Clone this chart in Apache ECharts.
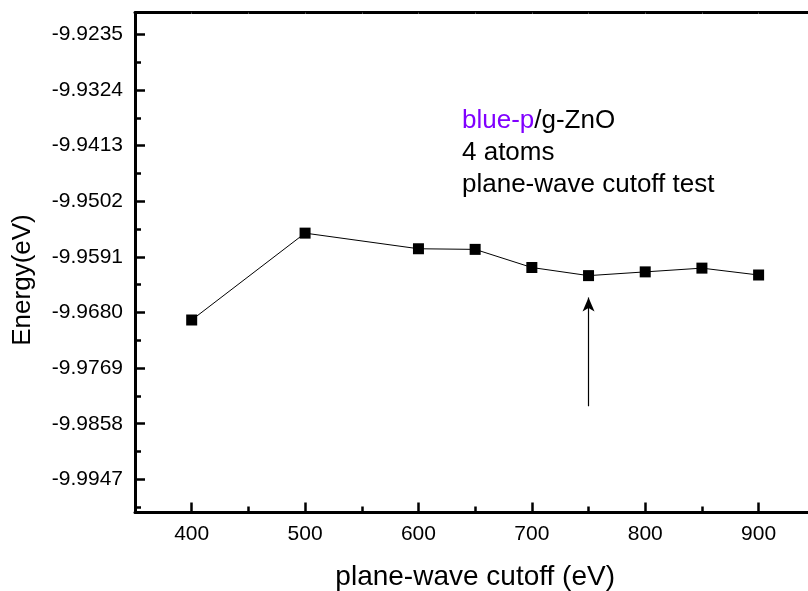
<!DOCTYPE html>
<html>
<head>
<meta charset="utf-8">
<script src="https://cdn.jsdelivr.net/npm/echarts@6/dist/echarts.min.js"></script>
<style>
html,body{margin:0;padding:0;background:#fff;}
#c{width:808px;height:591px;}
</style>
</head>
<body>
<div id="c"></div>
<script>
const cutoff = [400, 500, 600, 650, 700, 750, 800, 850, 900];
const energy = [-9.9692, -9.9553, -9.9578, -9.9579, -9.9608, -9.9621, -9.9615, -9.9609, -9.9620];
const yTicks = [-9.9235, -9.9324, -9.9413, -9.9502, -9.9591, -9.9680, -9.9769, -9.9858, -9.9947];
const yMinorTicks = [-9.92795, -9.93685, -9.94575, -9.95465, -9.96355, -9.97245, -9.98135, -9.99025, -9.99915];
const xTicks = [400, 500, 600, 700, 800, 900];
const xMinorTicks = [450, 550, 650, 750, 850];
const arrowFrom = [750, -9.9830];
const arrowTo = [750, -9.9656];
const noteLines = ['blue-p', '/g-ZnO', '4 atoms', 'plane-wave cutoff test'];

const FONT = '"Liberation Sans", Arial, Helvetica, sans-serif';
const chart = echarts.init(document.getElementById('c'), null, {renderer: 'canvas'});
const xMin = 350, xMax = 950, yMin = -10.0, yMax = -9.92;

chart.setOption({
  animation: false,
  backgroundColor: '#fff',
  grid: {left: 135, top: 12.5, right: -7.3, bottom: 78.5, containLabel: false, outerBoundsMode: 'none'},
  xAxis: [
    {
      type: 'value', position: 'bottom', min: xMin, max: xMax,
      name: 'plane-wave cutoff (eV)', nameLocation: 'middle', nameGap: 51,
      nameTextStyle: {fontFamily: FONT, fontSize: 28, color: '#000'},
      axisLine: {show: true, onZero: false, lineStyle: {color: '#000', width: 3}},
      axisTick: {show: true, inside: true, length: 10, customValues: xTicks, lineStyle: {color: '#000', width: 2.5}},
      axisLabel: {show: true, customValues: xTicks, margin: 11, fontFamily: FONT, fontSize: 21, color: '#000'},
      splitLine: {show: false}
    },
    {
      type: 'value', position: 'bottom', min: xMin, max: xMax,
      axisLine: {show: false},
      axisTick: {show: true, inside: true, length: 6, customValues: xMinorTicks, lineStyle: {color: '#000', width: 2.5}},
      axisLabel: {show: false},
      splitLine: {show: false}
    },
    {
      type: 'value', position: 'top', min: xMin, max: xMax,
      axisLine: {show: true, onZero: false, lineStyle: {color: '#000', width: 3}},
      axisTick: {show: true, inside: true, length: 1.5, customValues: xTicks.concat(xMinorTicks), lineStyle: {color: '#555', width: 1}},
      axisLabel: {show: false},
      splitLine: {show: false}
    }
  ],
  yAxis: [
    {
      type: 'value', position: 'left', min: yMin, max: yMax,
      axisLine: {show: true, onZero: false, lineStyle: {color: '#000', width: 3}},
      axisTick: {show: true, inside: true, length: 10, customValues: yTicks, lineStyle: {color: '#000', width: 2.5}},
      axisLabel: {show: true, customValues: yTicks, margin: 12, fontFamily: FONT, fontSize: 21, color: '#000',
        formatter: v => v.toFixed(4)},
      splitLine: {show: false}
    },
    {
      type: 'value', position: 'left', offset: 0, min: yMin, max: yMax,
      axisLine: {show: false},
      axisTick: {show: true, inside: true, length: 6, customValues: yMinorTicks, lineStyle: {color: '#000', width: 2.5}},
      axisLabel: {show: false},
      splitLine: {show: false}
    }
  ],
  graphic: [
    {
      type: 'text', x: 23, y: 280, rotation: Math.PI / 2,
      style: {text: 'Energy(eV)', font: '26px ' + FONT, fill: '#000', align: 'center', verticalAlign: 'middle'}
    },
    {
      type: 'text', left: 462, top: 105,
      style: {
        text: '{p|' + noteLines[0] + '}' + noteLines[1] + '\n' + noteLines[2] + '\n' + noteLines[3],
        font: '26px ' + FONT, fill: '#000', lineHeight: 32,
        rich: {p: {fill: '#8000ff', font: '26px ' + FONT, lineHeight: 32}}
      }
    }
  ],
  series: [
    {
      type: 'line', xAxisIndex: 0, yAxisIndex: 0,
      data: cutoff.map((x, i) => [x, energy[i]]),
      symbol: 'rect', symbolSize: 11,
      itemStyle: {color: '#000'},
      lineStyle: {color: '#000', width: 1},
      markLine: {
        silent: true, animation: false,
        symbol: ['none', 'arrow'], symbolSize: [9, 14],
        label: {show: false},
        lineStyle: {color: '#000', width: 1.2, type: 'solid'},
        data: [[{coord: arrowFrom}, {coord: arrowTo}]]
      }
    }
  ]
});
</script>
</body>
</html>
